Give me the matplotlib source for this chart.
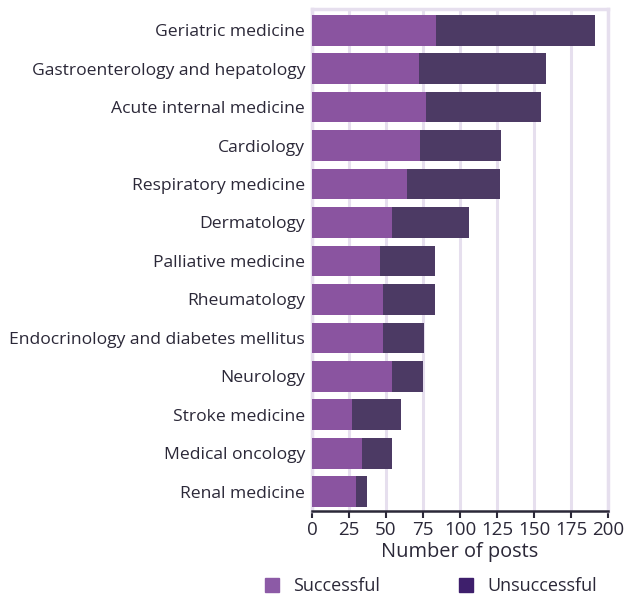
import matplotlib.pyplot as plt
from matplotlib.patches import Patch

# data
specialties = ['Geriatric medicine', 'Gastroenterology and hepatology', 'Acute internal medicine',
               'Cardiology', 'Respiratory medicine', 'Dermatology', 'Palliative medicine',
               'Rheumatology', 'Endocrinology and diabetes mellitus', 'Neurology',
               'Stroke medicine', 'Medical oncology', 'Renal medicine']
successful = [84, 72, 77, 73, 64, 54, 46, 48, 48, 54, 27, 34, 30]
unsuccessful = [107, 86, 78, 55, 63, 52, 37, 35, 28, 21, 33, 20, 7]
xticks = [0, 25, 50, 75, 100, 125, 150, 175, 200]

plt.rcParams['font.family'] = ['Open Sans', 'DejaVu Sans']
text_col = '#2b2838'
grid_col = '#e6dfee'
succ_col = '#8a54a0'
unsucc_col = '#4c3a64'

fig = plt.figure(figsize=(6.3, 5.96), dpi=100)
ax = fig.add_axes([312 / 630, 1 - 511 / 596, 296 / 630, 502 / 596])

y = list(range(len(specialties)))
ax.barh(y, successful, height=0.8, color=succ_col, zorder=3)
ax.barh(y, unsuccessful, left=successful, height=0.8, color=unsucc_col, zorder=3)

ax.set_ylim(len(specialties) - 0.5, -0.55)
ax.set_xlim(0, 200)
ax.set_xticks(xticks)
ax.set_xticklabels([str(t) for t in xticks], fontsize=13.5, color=text_col)
ax.set_yticks(y)
ax.set_yticklabels(specialties, fontsize=12.6, color=text_col)
ax.tick_params(axis='y', length=0, pad=5)
ax.tick_params(axis='x', length=5, width=1.5, color=text_col, pad=2)
ax.grid(axis='x', color=grid_col, linewidth=2.2, zorder=0)
ax.set_axisbelow(True)

for side in ['left', 'top', 'right']:
    ax.spines[side].set_color(grid_col)
    ax.spines[side].set_linewidth(2.5)
ax.spines['bottom'].set_color(text_col)
ax.spines['bottom'].set_linewidth(1.8)
ax.spines['bottom'].set_zorder(4)

ax.set_xlabel('Number of posts', fontsize=14.4, color=text_col, labelpad=2)

handles = [Patch(color='#8c5aa6', label='Successful'),
           Patch(color='#3e1f6c', label='Unsuccessful')]
fig.legend(handles=handles, loc='lower center', bbox_to_anchor=(0.684, -0.026), ncol=2,
           frameon=False, fontsize=13, handlelength=0.75, handleheight=0.75,
           handletextpad=0.8, columnspacing=4.4, labelcolor=text_col)

fig.savefig('out.png', dpi=100)
